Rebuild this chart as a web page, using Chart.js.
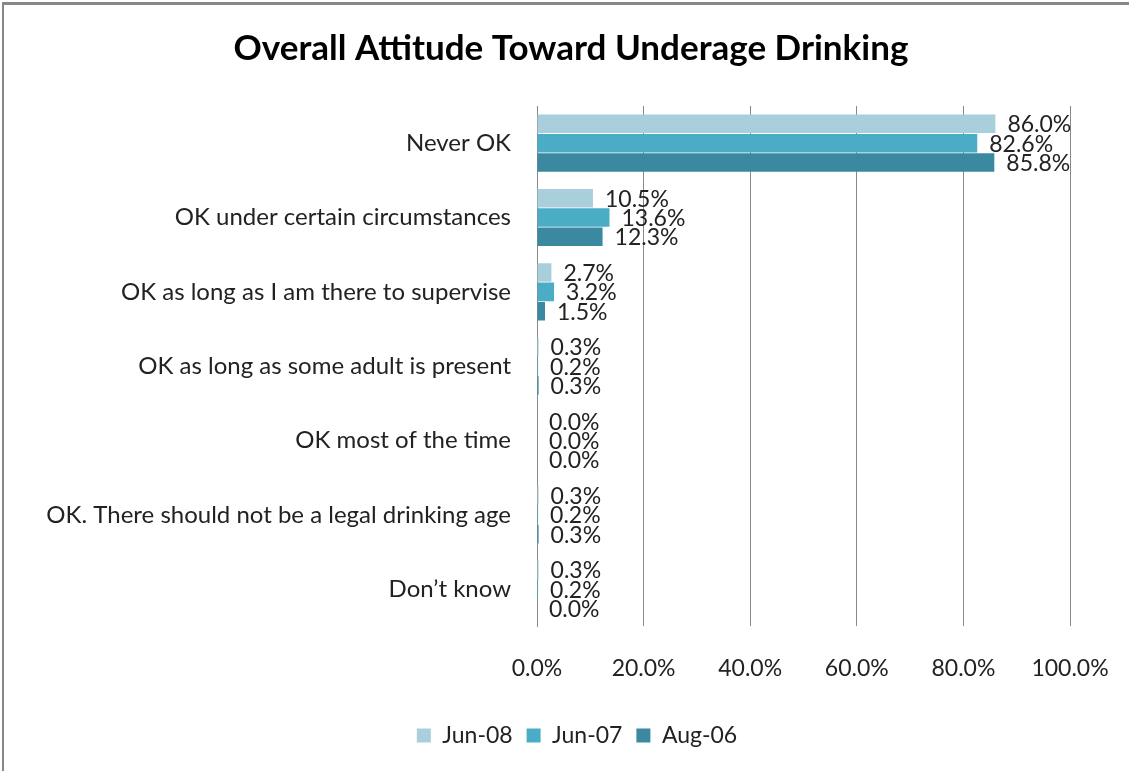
<!DOCTYPE html>
<html>
<head>
<meta charset="utf-8">
<script src="https://cdn.jsdelivr.net/npm/chart.js@4"></script>
<style>
  html, body { margin: 0; padding: 0; background: #fff; }
  #wrap { position: relative; width: 1129px; height: 771px; }
  #frame { position: absolute; left: 2px; top: 2px; right: -10px; bottom: -10px;
           border-top: 3px solid #888; border-left: 2px solid #888; pointer-events: none; }
</style>
</head>
<body>
<div id="wrap">
  <canvas id="attitudeChart" width="1129" height="771"></canvas>
  <div id="frame"></div>
</div>
<script>
const categories = [
  "Never OK",
  "OK under certain circumstances",
  "OK as long as I am there to supervise",
  "OK as long as some adult is present",
  "OK most of the time",
  "OK. There should not be a legal drinking age",
  "Don\u2019t know"
];
const jun08 = [86.0, 10.5, 2.7, 0.3, 0.0, 0.3, 0.3];
const jun07 = [82.6, 13.6, 3.2, 0.2, 0.0, 0.2, 0.2];
const aug06 = [85.8, 12.3, 1.5, 0.3, 0.0, 0.3, 0.0];
const xTicks = [0, 20, 40, 60, 80, 100];

const FONT = "Lato, 'Open Sans', sans-serif";

// draws the value next to the end of each bar
const barLabels = {
  id: "barLabels",
  afterDatasetsDraw(chart) {
    const ctx = chart.ctx;
    ctx.save();
    ctx.font = "23px " + FONT;
    ctx.fillStyle = "#222";
    ctx.textAlign = "left";
    ctx.textBaseline = "middle";
    chart.data.datasets.forEach((ds, i) => {
      chart.getDatasetMeta(i).data.forEach((bar, j) => {
        ctx.fillText(ds.data[j].toFixed(1) + "%", bar.x + 12, bar.y + 1);
      });
    });
    ctx.restore();
  }
};

// the original centres title and legend a bit right of the canvas middle
const shiftBlocks = {
  id: "shiftBlocks",
  afterLayout(chart) {
    const t = chart.titleBlock, l = chart.legend;
    if (t) { t.left += 31; t.right += 31; }
    if (l) { l.left += 37; l.right += 37; l.adjustHitBoxes(); }
  }
};

const ctx = document.getElementById("attitudeChart").getContext("2d");
new Chart(ctx, {
  type: "bar",
  data: {
    labels: categories,
    datasets: [
      { label: "Jun-08", data: jun08, backgroundColor: "#A9CFDD" },
      { label: "Jun-07", data: jun07, backgroundColor: "#4BACC6" },
      { label: "Aug-06", data: aug06, backgroundColor: "#3B89A0" }
    ]
  },
  options: {
    indexAxis: "y",
    responsive: false,
    animation: false,
    categoryPercentage: 0.78,
    barPercentage: 0.96,
    layout: { padding: { left: 10, right: 59, top: 10, bottom: 14 } },
    scales: {
      x: {
        min: 0,
        max: 100,
        afterBuildTicks(axis) { axis.ticks = xTicks.map(v => ({ value: v })); },
        afterFit(axis) { axis.paddingLeft = 0; axis.paddingRight = 0; },
        grid: { color: "#888", lineWidth: 1, drawTicks: false },
        border: { display: false },
        ticks: {
          padding: 28,
          color: "#222",
          font: { family: FONT, size: 23 },
          callback: v => v.toFixed(1) + "%"
        }
      },
      y: {
        afterFit(axis) { axis.width = 527; },
        grid: { display: false, drawTicks: false },
        border: { display: true, color: "#888" },
        ticks: {
          padding: 26,
          color: "#222",
          font: { family: FONT, size: 24 }
        }
      }
    },
    plugins: {
      title: {
        display: true,
        text: "Overall Attitude Toward Underage Drinking",
        color: "#000",
        font: { family: FONT, size: 35, weight: "bold" },
        padding: { top: 18, bottom: 36 }
      },
      legend: {
        position: "bottom",
        labels: {
          color: "#222",
          font: { family: FONT, size: 23 },
          boxWidth: 14,
          boxHeight: 14,
          padding: 14
        }
      },
      tooltip: { enabled: false }
    }
  },
  plugins: [barLabels, shiftBlocks]
});
</script>
</body>
</html>
